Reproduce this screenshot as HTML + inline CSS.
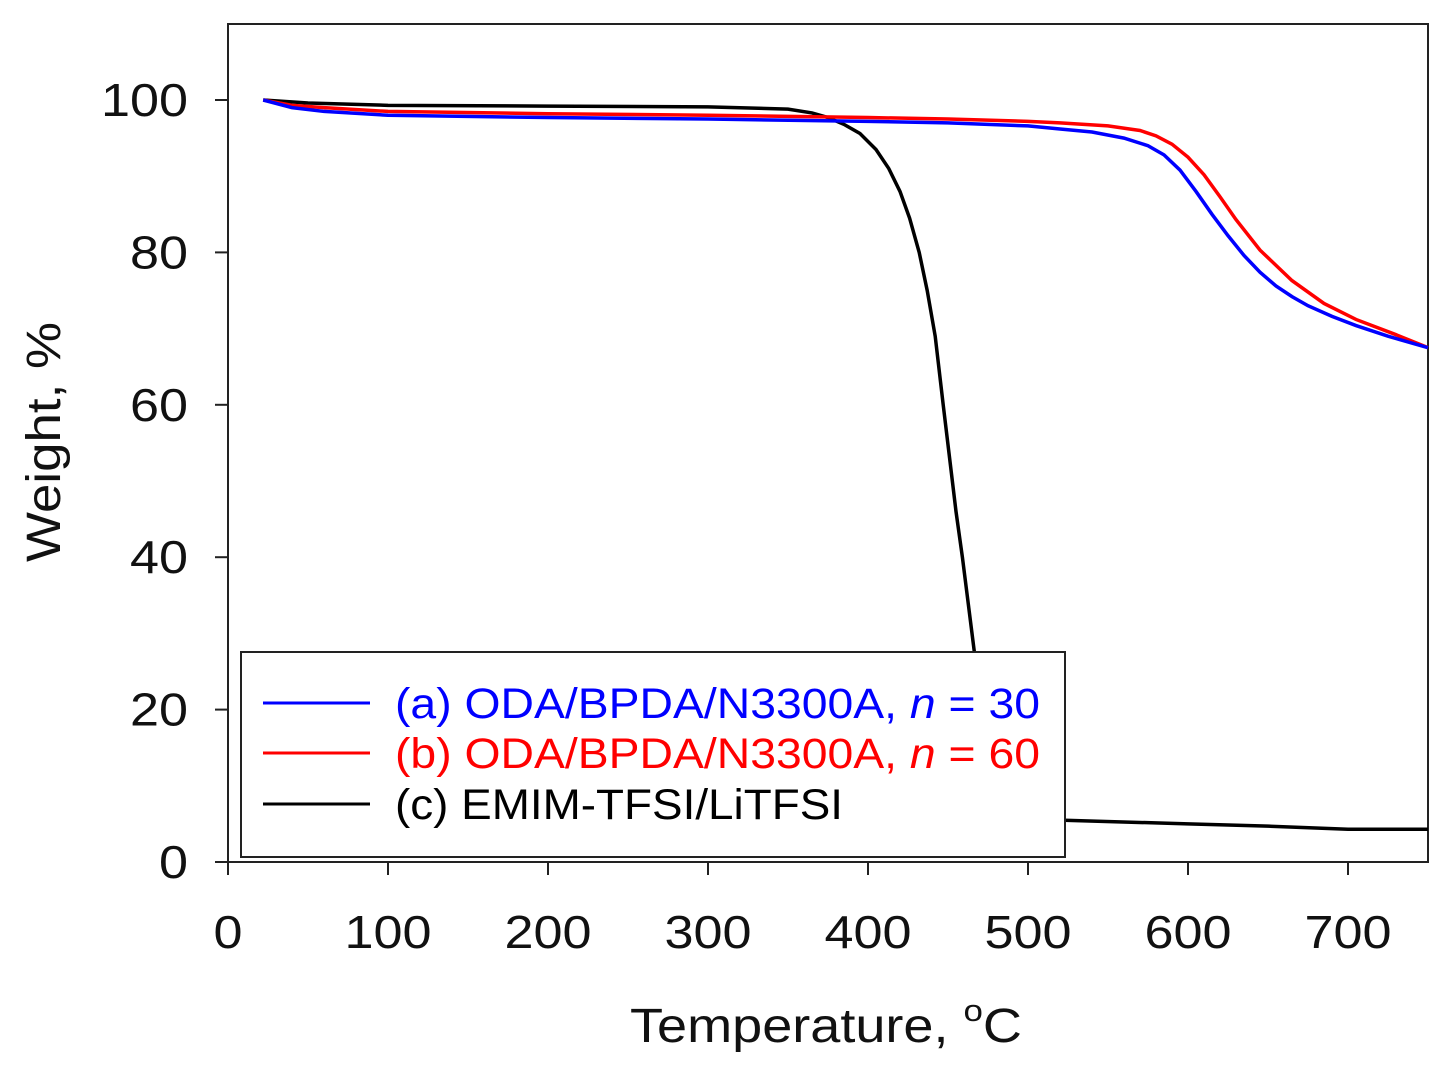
<!DOCTYPE html>
<html><head><meta charset="utf-8"><style>
body{margin:0;background:#fff;width:1448px;height:1073px;overflow:hidden}
svg text{font-family:"Liberation Sans",Arial,sans-serif}
</style></head><body>
<svg id="chart" width="1448" height="1073" xmlns="http://www.w3.org/2000/svg">
<rect x="228" y="24" width="1200" height="838" fill="none" stroke="#222" stroke-width="2"/>
<g id="ticks"></g>
<g id="series"></g>
<text transform="translate(60,442) rotate(-90)" text-anchor="middle" font-size="48" fill="#111" textLength="240" lengthAdjust="spacingAndGlyphs">Weight, %</text>
<text x="630" y="1042" font-size="48" fill="#111" textLength="392" lengthAdjust="spacingAndGlyphs">Temperature, <tspan font-size="31" dy="-21">o</tspan><tspan dy="21">C</tspan></text>
<g>
<rect x="241" y="652" width="824" height="205" fill="#fff" stroke="#222" stroke-width="2"/>
<g><line x1="263" y1="703" x2="370" y2="703" stroke="#0000ff" stroke-width="3"/><text x="395" y="718" font-size="43" fill="#0000ff" textLength="645" lengthAdjust="spacingAndGlyphs">(a) ODA/BPDA/N3300A, <tspan font-style="italic">n</tspan> = 30</text></g>
<g><line x1="263" y1="753" x2="370" y2="753" stroke="#ff0000" stroke-width="3"/><text x="395" y="768" font-size="43" fill="#ff0000" textLength="645" lengthAdjust="spacingAndGlyphs">(b) ODA/BPDA/N3300A, <tspan font-style="italic">n</tspan> = 60</text></g>
<g><line x1="263" y1="804" x2="370" y2="804" stroke="#000" stroke-width="3"/><text x="395" y="819" font-size="43" fill="#000" textLength="448" lengthAdjust="spacingAndGlyphs">(c) EMIM-TFSI/LiTFSI</text></g>
</g>
</svg>
<script>
const xTicks=[0,100,200,300,400,500,600,700];
const yTicks=[0,20,40,60,80,100];
const tempA=[22,40,60,100,200,300,400,450,500,520,540,560,575,585,595,605,615,625,635,645,655,665,675,690,705,725,750];
const weightA=[100,99,98.5,98,97.7,97.5,97.2,97,96.6,96.2,95.8,95,94,92.8,90.8,88,85,82.2,79.6,77.4,75.6,74.2,73,71.6,70.4,69,67.5];
const tempB=[22,40,60,100,200,300,400,450,500,520,550,570,580,590,600,610,620,630,645,665,685,705,730,750];
const weightB=[100,99.3,99,98.5,98.2,98,97.7,97.5,97.2,97,96.6,96,95.3,94.2,92.5,90.2,87.3,84.3,80.3,76.3,73.3,71.2,69.2,67.5];
const tempC=[22,50,100,200,300,350,365,375,385,395,405,413,420,426,432,437,442,447,451,455,459,462,465,468,472,476,480,486,492,500,520,600,650,700,750];
const weightC=[100,99.6,99.3,99.2,99.1,98.8,98.3,97.7,96.8,95.6,93.5,91,88,84.5,80,75,69,60,53,46,40,35,30,25,18,13,10,8,7,6,5.5,5,4.7,4.3,4.3];
const X=t=>228+t*1.6, Y=w=>862-w*7.62;
const NS="http://www.w3.org/2000/svg";
const tg=document.getElementById('ticks');
xTicks.forEach(t=>{
 const l=document.createElementNS(NS,'line');
 
 
 l.setAttribute('x1',X(t));l.setAttribute('x2',X(t));l.setAttribute('y1',862);l.setAttribute('y2',875);
 l.setAttribute('stroke','#222');l.setAttribute('stroke-width','2');tg.appendChild(l);
 const s=document.createElementNS(NS,'text');
 
 
 s.setAttribute('x',X(t));s.setAttribute('y',948);s.setAttribute('text-anchor','middle');s.setAttribute('font-size','46');s.setAttribute('fill','#111');
 s.setAttribute('textLength',String(t).length*29);s.setAttribute('lengthAdjust','spacingAndGlyphs');
 s.textContent=t;tg.appendChild(s);
});
yTicks.forEach(w=>{
 const l=document.createElementNS(NS,'line');
 
 
 l.setAttribute('x1',215);l.setAttribute('x2',228);l.setAttribute('y1',Y(w));l.setAttribute('y2',Y(w));
 l.setAttribute('stroke','#222');l.setAttribute('stroke-width','2');tg.appendChild(l);
 const s=document.createElementNS(NS,'text');
 
 
 s.setAttribute('x',188);s.setAttribute('y',Y(w)+16);s.setAttribute('text-anchor','end');s.setAttribute('font-size','46');s.setAttribute('fill','#111');
 s.setAttribute('textLength',String(w).length*29);s.setAttribute('lengthAdjust','spacingAndGlyphs');
 s.textContent=w;tg.appendChild(s);
});
const sg=document.getElementById('series');
function draw(ts,ws,color,name){
 const p=document.createElementNS(NS,'polyline');
 
 
 p.setAttribute('points',ts.map((t,i)=>X(t)+','+Y(ws[i])).join(' '));
 p.setAttribute('fill','none');p.setAttribute('stroke',color);p.setAttribute('stroke-width','3.5');
 sg.appendChild(p);
}
draw(tempC,weightC,'#000','series-c-line');
draw(tempB,weightB,'#ff0000','series-b-line');
draw(tempA,weightA,'#0000ff','series-a-line');
</script>
</body></html>
